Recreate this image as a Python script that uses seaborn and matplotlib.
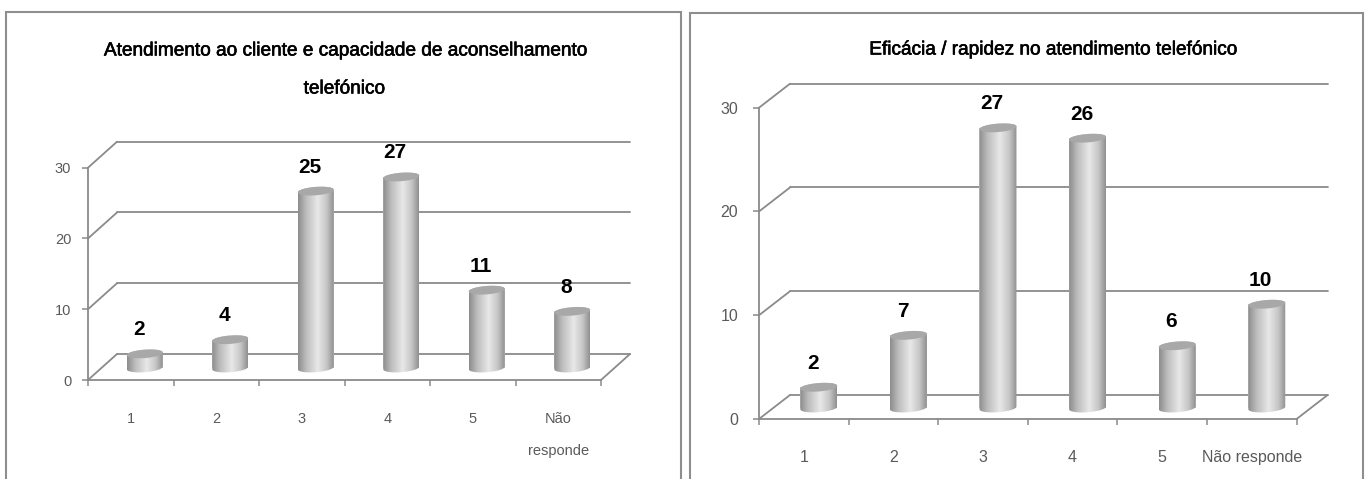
import numpy as np
import matplotlib
matplotlib.use("Agg")
import matplotlib.pyplot as plt
import matplotlib.patheffects as pe
from matplotlib.colors import LinearSegmentedColormap
from matplotlib.patches import Polygon, Rectangle
from matplotlib.path import Path
from matplotlib.transforms import IdentityTransform
import seaborn as sns

# Survey answers for the two telephone-service questions
categories = ["1", "2", "3", "4", "5", "Não responde"]
left_labels = ["1", "2", "3", "4", "5", "Não\nresponde"]
right_labels = ["1", "2", "3", "4", "5", "Não responde"]
left_values = [2, 4, 25, 27, 11, 8]
right_values = [2, 7, 27, 26, 6, 10]
left_title = "Atendimento ao cliente e capacidade de aconselhamento\ntelefónico"
right_title = "Eficácia / rapidez no atendimento telefónico"
y_ticks = [0, 10, 20, 30]

W, H = 1371, 479
GRID = "#8a8a8a"
TEXT = "#5a5a5a"
FRAME = "#8e8e8e"

sns.set_theme(style="white")
plt.rcParams["font.family"] = ["Liberation Sans", "DejaVu Sans"]

fig = plt.figure(figsize=(W / 100, H / 100), dpi=100, facecolor="white")
shade = LinearSegmentedColormap.from_list(
    "cylinder",
    [(0, "#8c8c8c"), (0.22, "#bcbcbc"), (0.55, "#e8e8e8"), (0.8, "#c6c6c6"), (1, "#909090")],
)


def frame(x0, y0, x1, y1):
    fig.add_artist(Rectangle((x0, H - y1), x1 - x0, y1 - y0, fill=False, edgecolor=FRAME,
                             linewidth=1.5, transform=IdentityTransform()))


def ellipse(a, b, tilt, t):
    # Offsets of a tilted ellipse, in pixels
    ex = a * np.cos(t) * np.cos(tilt) - b * np.sin(t) * np.sin(tilt)
    ey = a * np.cos(t) * np.sin(tilt) + b * np.sin(t) * np.cos(tilt)
    return ex, ey


def chart(values, labels, title, title_ys, title_x, box, depth, lift, bar_px, label_gap,
          line_gap, tick_size, y_pad, x_pad):
    x0, x1, y_zero, y_top = box
    ax = fig.add_axes([x0 / W, 1 - y_zero / H, (x1 - x0) / W, (y_zero - y_top) / H])
    sns.barplot(x=categories, y=values, order=categories, color="#c8c8c8",
                width=bar_px / ((x1 - x0) / 6), ax=ax, saturation=1, zorder=3)
    ax.set_xlim(-0.5, 5.5)
    ax.set_ylim(0, 30)
    ax.set_facecolor("none")
    ux = (x1 - x0) / 6
    uy = (y_zero - y_top) / 30
    dx, dy = depth[0] / ux, depth[1] / uy

    # Back wall, side wall and floor of the box
    for v in y_ticks:
        ax.plot([-0.5 + dx, 5.5 + dx], [v + dy, v + dy], color=GRID, lw=1.3, zorder=1, clip_on=False)
        ax.plot([-0.5, -0.5 + dx], [v, v + dy], color=GRID, lw=1.3, zorder=1, clip_on=False)
    ax.plot([5.5, 5.5 + dx], [0, dy], color=GRID, lw=1.3, zorder=1, clip_on=False)

    sns.despine(ax=ax, top=True, right=True)
    for side in ("left", "bottom"):
        ax.spines[side].set_color(GRID)
        ax.spines[side].set_linewidth(1.3)
    ax.set_yticks(y_ticks)
    ax.set_xticks(np.arange(-0.5, 6, 1))
    ax.set_xticklabels([])
    ax.set_xticks(np.arange(6), labels=labels, minor=True)
    ax.tick_params(axis="x", which="major", length=4, width=1.1, color=GRID, bottom=True)
    ax.tick_params(axis="x", which="minor", length=0, pad=x_pad, labelsize=tick_size,
                   labelcolor=TEXT, bottom=False)
    ax.tick_params(axis="y", length=4, width=1.1, color=GRID, pad=y_pad, left=True,
                   labelsize=tick_size, labelcolor=TEXT)
    for tl in ax.get_xticklabels(minor=True):
        tl.set_linespacing(line_gap)
    ax.set_xlabel("")
    ax.set_ylabel("")
    ax.grid(False)

    # Turn each flat bar into a shaded cylinder
    tilt = np.deg2rad(4.5)
    a, b = bar_px / 2, 4.2
    lower = np.linspace(np.pi, 2 * np.pi, 40)
    upper = np.linspace(0, np.pi, 40)
    circle = np.linspace(0, 2 * np.pi, 80)
    ramp = np.linspace(0, 1, 128).reshape(1, -1)
    for bar, value in zip(ax.patches, values):
        cx = bar.get_x() + bar.get_width() / 2 + lift[0] / ux
        base = lift[1] / uy
        top = base + value
        bar.set_x(bar.get_x() + lift[0] / ux)
        bar.set_y(base)
        bar.set_linewidth(0)

        ex, ey = ellipse(a, b, tilt, lower)
        tx, ty = ellipse(a, b, tilt, upper)
        px = np.r_[cx + ex / ux, cx + tx / ux]
        py = np.r_[base + ey / uy, top + ty / uy]
        body = Path(np.c_[px, py], closed=False)
        im = ax.imshow(ramp, cmap=shade, vmin=0, vmax=1, aspect="auto", zorder=4,
                       extent=[cx - a / ux, cx + a / ux, base - 1.2 * b / uy, top + 1.2 * b / uy])
        im.set_clip_path(body, transform=ax.transData)

        cap_x, cap_y = ellipse(a, b, tilt, circle)
        ax.add_patch(Polygon(np.c_[cx + cap_x / ux, top + cap_y / uy], closed=True,
                             facecolor="#a8a8a8", edgecolor="none", zorder=5))
        ax.text(cx - 6 / ux, top + label_gap / uy, str(value), ha="center", va="center",
                fontsize=15, fontweight="bold", color="black", zorder=6, clip_on=False)
    ax.set_xlim(-0.5, 5.5)
    ax.set_ylim(0, 30)

    # Title lines, slightly emboldened
    for line, ty in zip(title.split("\n"), title_ys):
        fig.text(title_x / W, 1 - ty / H, line, ha="center", va="center", fontsize=13.7, color="black",
                 path_effects=[pe.withStroke(linewidth=0.45, foreground="black")])


frame(6, 12, 681, H + 10)
frame(690, 13, 1363, H + 10)

chart(left_values, left_labels, left_title, (51, 89), 344, (88, 601, 380, 167.7),
      (29, 26), (14, 12), 36, 24, 2.6, 10.5, 8, 23)
chart(right_values, right_labels, right_title, (50,), 1052, (759, 1296.6, 419, 107.7),
      (31, 24), (15, 11), 37, 24, 1.2, 11.5, 11, 22)

fig.savefig("out.png", dpi=100, facecolor="white")
